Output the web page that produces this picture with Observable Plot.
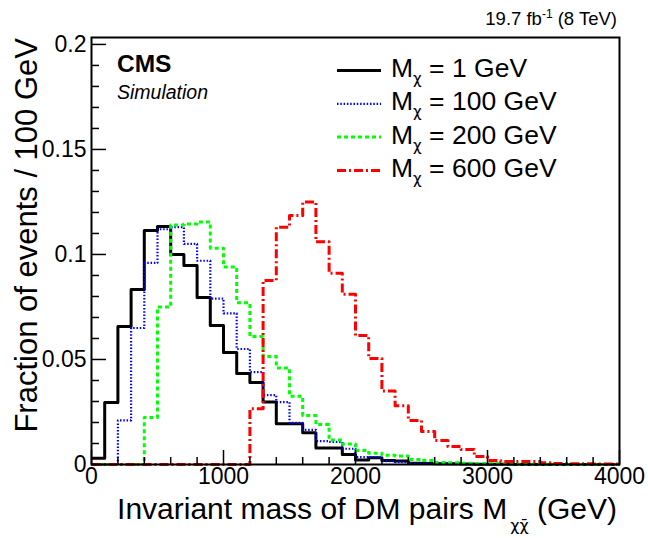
<!DOCTYPE html>
<html><head><meta charset="utf-8">
<script src="https://cdn.jsdelivr.net/npm/d3@7"></script>
<script src="https://cdn.jsdelivr.net/npm/@observablehq/plot@0.6"></script>
<style>body{margin:0;background:#fff} svg{display:block}</style>
</head><body><div id="chart"></div>
<script>
// bin low edges (GeV), 100 GeV bins
const binLow = d3.range(0, 4000, 100);
const xMax = 4000;

// Fraction of events / 100 GeV
const m1 = [0.0030,0.0295,0.0657,0.0833,0.1114,0.1133,0.1000,0.0948,0.0795,0.0662,
            0.0533,0.0433,0.0390,0.0297,0.0194,0.0194,0.0151,0.0079,0.0079,0.0048,
            0.0022,0.0032,0.0019,0.0017,0.0006,0.0005,0.0003,0.0003,0.0002,0.0001,
            0.0001,0.0001,0,0,0,0,0,0,0,0];
const m100 = [0,0,0.0210,0.0650,0.0960,0.1120,0.1130,0.1050,0.0970,0.0790,
              0.0720,0.0550,0.0440,0.0330,0.0297,0.0198,0.0165,0.0111,0.0108,0.0075,
              0.0035,0.0035,0.0016,0.0011,0.0006,0.0005,0.0003,0.0002,0.0002,0.0001,
              0.0001,0.0001,0,0,0,0,0,0,0,0];
const m200 = [0,0,0,0,0.0224,0.0750,0.1140,0.1145,0.1155,0.1030,
              0.0940,0.0770,0.0610,0.0514,0.0460,0.0325,0.0233,0.0190,0.0117,0.0098,
              0.0067,0.0054,0.0044,0.0041,0.0024,0.0019,0.0010,0.0008,0.0006,0.0004,
              0.0003,0.0002,0.0001,0.0001,0.0001,0,0,0,0,0];
const m600 = [0,0,0,0,0,0,0,0,0,0,
              0,0,0.0265,0.0876,0.1130,0.1186,0.1250,0.1060,0.0910,0.0810,
              0.0614,0.0505,0.0350,0.0280,0.0210,0.0157,0.0114,0.0086,0.0071,0.0038,
              0.0019,0.0014,0.0014,0.0014,0.0008,0.0005,0.0004,0.0003,0.0002,0.0002];

const legendLabels = ["1 GeV", "100 GeV", "200 GeV", "600 GeV"];
const xMajor = [0, 1000, 2000, 3000, 4000];
const xMinor = [200,400,600,800,1200,1400,1600,1800,2200,2400,2600,2800,3200,3400,3600,3800];
const yMajor = [0, 0.05, 0.1, 0.15, 0.2];
const yMinor = [0.01,0.02,0.03,0.04,0.06,0.07,0.08,0.09,0.11,0.12,0.13,0.14,0.16,0.17,0.18,0.19];

const series = [
  {values: m1,   color: "#000000", dash: null,      width: 3},
  {values: m100, color: "#0000ff", dash: "1.5,1.8", width: 2.2},
  {values: m200, color: "#00ff00", dash: "4,3",     width: 3},
  {values: m600, color: "#ff0000", dash: "9,3,2,3", width: 3}
];

function steps(vals) {
  const pts = binLow.map((x, i) => ({x, y: vals[i]}));
  pts.push({x: xMax, y: vals[vals.length - 1]});
  return pts;
}

const W = 648, H = 538, ML = 91, MR = 29, MT = 37, MB = 74;
const plotW = W - ML - MR, plotH = H - MT - MB;
const FONT = "'Liberation Sans', Arial, Helvetica, sans-serif";
const GREEK = "'DejaVu Sans', 'Liberation Sans', sans-serif";

const svg = Plot.plot({
  width: W, height: H,
  marginLeft: ML, marginRight: MR, marginTop: MT, marginBottom: MB,
  x: {domain: [0, xMax]},
  y: {domain: [0, 0.2033]},
  style: {fontFamily: FONT, background: "white", color: "black", overflow: "visible"},
  marks: [
    ...series.map(s => Plot.line(steps(s.values), {
      x: "x", y: "y", curve: "step-after",
      stroke: s.color, strokeWidth: s.width, strokeDasharray: s.dash, strokeLinecap: "butt"
    })),
    Plot.tickX(xMinor, {x: d => d, stroke: "black", strokeWidth: 1.5, insetTop: plotH - 7}),
    Plot.tickX(xMajor, {x: d => d, stroke: "black", strokeWidth: 1.5, insetTop: plotH - 14}),
    Plot.tickY(yMinor, {y: d => d, stroke: "black", strokeWidth: 1.5, insetRight: plotW - 8}),
    Plot.tickY(yMajor, {y: d => d, stroke: "black", strokeWidth: 1.5, insetRight: plotW - 15}),
    Plot.axisX({ticks: xMajor, tickSize: 0, tickPadding: 3, fontSize: 23, label: null, tickFormat: d => String(d)}),
    Plot.axisY({ticks: yMajor, tickSize: 0, tickPadding: 5, fontSize: 23, label: null, tickFormat: d => String(d)}),
    Plot.frame({stroke: "black", strokeWidth: 2})
  ]
});

document.getElementById("chart").appendChild(svg);
const g = d3.select(svg).append("g").attr("font-family", FONT).attr("fill", "black")
  .attr("text-anchor", "start").style("text-anchor", "start");

// top-right luminosity label
const t = g.append("text").attr("x", W - 31).attr("y", 25).attr("text-anchor", "end").style("text-anchor", "end").attr("font-size", 18.5);
t.append("tspan").text("19.7 fb");
t.append("tspan").attr("font-size", 12).attr("dy", -7).text("-1");
t.append("tspan").attr("dy", 7).text(" (8 TeV)");

// CMS Simulation
g.append("text").attr("x", 117).attr("y", 72).attr("font-size", 24.5).attr("font-weight", "bold").text("CMS");
g.append("text").attr("x", 117).attr("y", 99).attr("font-size", 19.5).attr("font-style", "italic").text("Simulation");

// y axis title
g.append("text").attr("transform", "translate(37,38) rotate(-90)")
  .attr("text-anchor", "end").style("text-anchor", "end")
  .attr("font-size", 31).text("Fraction of events / 100 GeV");

// x axis title
const xl = g.append("text").attr("x", W - 31).attr("y", 519)
  .attr("text-anchor", "end").style("text-anchor", "end").attr("font-size", 30);
xl.append("tspan").text("Invariant mass of DM pairs M");
xl.append("tspan").attr("font-family", GREEK).attr("font-size", 16).attr("dy", 12).attr("dx", 3).text("\u03c7\u03c7\u0304");
xl.append("tspan").attr("dy", -12).text(" (GeV)");

// legend
series.forEach((s, i) => {
  const yb = 77 + 33.3 * i;
  g.append("line").attr("x1", 337).attr("x2", 381).attr("y1", yb - 6.5).attr("y2", yb - 6.5)
    .attr("stroke", s.color).attr("stroke-width", s.width)
    .attr("stroke-dasharray", s.dash);
  const tx = g.append("text").attr("x", 391).attr("y", yb).attr("font-size", 26.5);
  tx.append("tspan").text("M");
  tx.append("tspan").attr("font-family", GREEK).attr("font-size", 15).attr("dy", 7).text("\u03c7");
  tx.append("tspan").attr("dy", -7).text(" = " + legendLabels[i]);
});
</script>
</body></html>
